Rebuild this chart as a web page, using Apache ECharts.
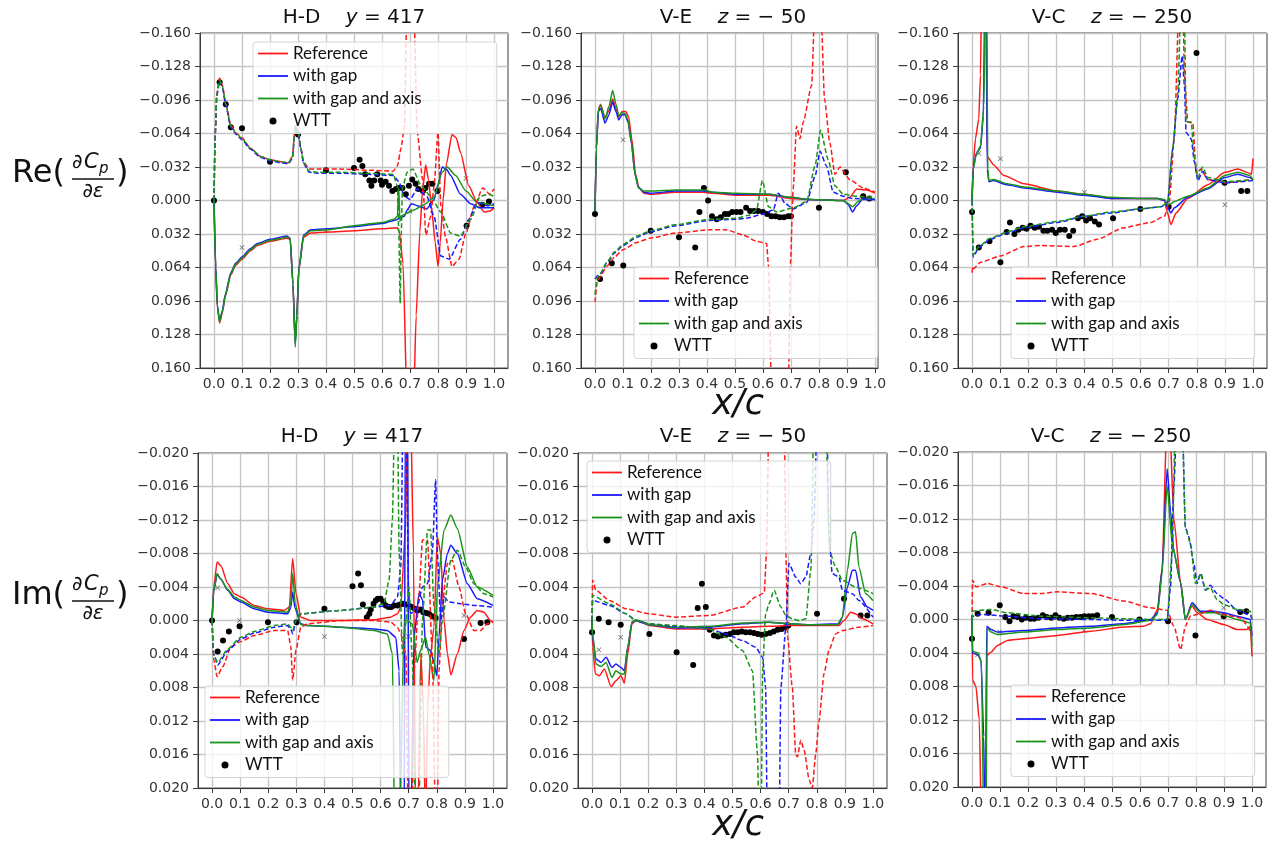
<!DOCTYPE html>
<html>
<head>
<meta charset="utf-8">
<title>dCp/de</title>
<script src="https://cdn.jsdelivr.net/npm/echarts@6/dist/echarts.min.js"></script>
<style>
  html, body { margin: 0; background: #fff; }
  #chart { width: 1273px; height: 841px; }
</style>
</head>
<body>
<div id="chart"></div>
<script>
// ---- data: [x/c, value] pairs (values past the frame are clipped) ----
const xTickValues = [0, 0.1, 0.2, 0.3, 0.4, 0.5, 0.6, 0.7, 0.8, 0.9, 1.0];
const seriesNames = ['Reference', 'with gap', 'with gap and axis'];

// Re, H-D y=417
const reHD_ref_s = [[0,0],[0.006,0.065],[0.012,0.102],[0.02,0.117],[0.03,0.107],[0.04,0.092],[0.06,0.071],[0.077,0.062],[0.1,0.056],[0.13,0.048],[0.155,0.043],[0.2,0.039],[0.26,0.036],[0.272,0.037],[0.282,0.08],[0.29,0.135],[0.296,0.11],[0.303,0.066],[0.32,0.035],[0.345,0.031],[0.405,0.03],[0.5,0.029],[0.6,0.027],[0.655,0.026],[0.662,0.03],[0.675,0.06],[0.69,0.2],[0.712,0.2],[0.722,0.11],[0.735,0.03],[0.745,-0.01],[0.756,-0.034],[0.766,-0.02],[0.778,0.01],[0.79,0.04],[0.8,0.063],[0.808,0.04],[0.818,0.0],[0.83,-0.035],[0.85,-0.063],[0.865,-0.06],[0.88,-0.046],[0.91,-0.014],[0.94,0.002],[0.965,0.011],[0.985,0.01],[1.0,0.007]];
const reHD_gap_s = [[0,0],[0.006,0.063],[0.012,0.1],[0.02,0.115],[0.03,0.105],[0.04,0.09],[0.06,0.069],[0.077,0.06],[0.1,0.054],[0.13,0.046],[0.155,0.041],[0.2,0.037],[0.26,0.034],[0.272,0.036],[0.282,0.08],[0.29,0.137],[0.296,0.11],[0.303,0.065],[0.32,0.033],[0.345,0.028],[0.405,0.027],[0.5,0.025],[0.6,0.022],[0.643,0.019],[0.68,0.015],[0.69,0.009],[0.705,0.003],[0.726,0.005],[0.76,0.008],[0.786,-0.001],[0.8,-0.015],[0.815,-0.032],[0.83,-0.03],[0.845,-0.024],[0.88,-0.006],[0.917,0.003],[0.95,0.007],[1.0,0.007]];
const reHD_axis_s = [[0,0],[0.006,0.064],[0.012,0.101],[0.02,0.116],[0.03,0.106],[0.04,0.091],[0.06,0.07],[0.077,0.061],[0.1,0.055],[0.13,0.047],[0.155,0.042],[0.2,0.038],[0.26,0.035],[0.272,0.036],[0.282,0.08],[0.29,0.14],[0.296,0.11],[0.303,0.065],[0.32,0.034],[0.345,0.029],[0.405,0.028],[0.5,0.024],[0.6,0.021],[0.643,0.018],[0.655,0.015],[0.66,-0.012],[0.664,0.02],[0.668,0.015],[0.69,0.012],[0.714,0.009],[0.75,0.004],[0.786,-0.003],[0.815,-0.027],[0.833,-0.032],[0.863,-0.024],[0.9,-0.009],[0.94,0.002],[1.0,0.005]];
const reHD_ref_d = [[0,0],[0.004,-0.062],[0.01,-0.102],[0.02,-0.117],[0.03,-0.11],[0.042,-0.093],[0.06,-0.072],[0.08,-0.064],[0.1,-0.06],[0.13,-0.05],[0.167,-0.042],[0.2,-0.039],[0.24,-0.037],[0.265,-0.036],[0.28,-0.042],[0.29,-0.072],[0.3,-0.066],[0.31,-0.05],[0.32,-0.037],[0.34,-0.03],[0.37,-0.03],[0.45,-0.03],[0.55,-0.029],[0.64,-0.028],[0.655,-0.033],[0.668,-0.05],[0.68,-0.07],[0.69,-0.2],[0.712,-0.2],[0.726,-0.065],[0.745,-0.02],[0.757,0.033],[0.774,0.015],[0.786,-0.014],[0.8,-0.065],[0.81,0.005],[0.827,0.035],[0.85,0.063],[0.875,0.056],[0.9,0.031],[0.93,0.005],[0.96,-0.012],[0.985,-0.006],[1.0,-0.011]];
const reHD_gap_d = [[0,0],[0.004,-0.06],[0.01,-0.1],[0.02,-0.114],[0.03,-0.108],[0.042,-0.091],[0.06,-0.07],[0.08,-0.063],[0.1,-0.058],[0.13,-0.049],[0.167,-0.041],[0.2,-0.038],[0.24,-0.036],[0.265,-0.035],[0.28,-0.04],[0.29,-0.07],[0.3,-0.065],[0.31,-0.05],[0.32,-0.035],[0.34,-0.027],[0.37,-0.026],[0.45,-0.026],[0.55,-0.025],[0.64,-0.024],[0.66,-0.018],[0.68,-0.004],[0.7,-0.001],[0.726,-0.011],[0.76,-0.004],[0.786,0.015],[0.81,0.053],[0.84,0.056],[0.88,0.037],[0.91,0.018],[0.94,0.002],[0.98,0.005],[1.0,0.003]];
const reHD_axis_d = [[0,0],[0.004,-0.061],[0.01,-0.101],[0.02,-0.115],[0.03,-0.109],[0.042,-0.092],[0.06,-0.071],[0.08,-0.064],[0.1,-0.059],[0.13,-0.05],[0.167,-0.042],[0.2,-0.039],[0.24,-0.037],[0.265,-0.036],[0.28,-0.041],[0.29,-0.071],[0.3,-0.066],[0.31,-0.05],[0.32,-0.036],[0.34,-0.028],[0.37,-0.027],[0.45,-0.027],[0.55,-0.026],[0.64,-0.025],[0.655,-0.014],[0.66,0.03],[0.665,0.098],[0.669,0.03],[0.673,-0.012],[0.69,-0.027],[0.71,-0.03],[0.74,-0.014],[0.774,-0.004],[0.81,0.011],[0.845,0.031],[0.88,0.034],[0.917,0.018],[0.95,-0.004],[0.98,-0.006],[1.0,-0.004]];
const reHD_wtt = [[0,0],[0.02,-0.113],[0.042,-0.092],[0.06,-0.07],[0.1,-0.069],[0.2,-0.037],[0.3,-0.063],[0.4,-0.029],[0.5,-0.031],[0.52,-0.039],[0.53,-0.033],[0.54,-0.025],[0.555,-0.019],[0.562,-0.014],[0.572,-0.019],[0.583,-0.025],[0.595,-0.019],[0.6,-0.015],[0.613,-0.018],[0.625,-0.014],[0.637,-0.009],[0.65,-0.011],[0.66,-0.012],[0.673,-0.012],[0.685,-0.006],[0.696,-0.014],[0.708,-0.02],[0.72,-0.016],[0.73,-0.011],[0.746,-0.009],[0.755,-0.012],[0.768,-0.016],[0.78,-0.016],[0.798,-0.009],[0.902,0.024],[0.958,0.004],[0.982,0.001]];
const reHD_x = [[0.1,0.045],[0.4,0.029],[0.7,0.01],[0.9,-0.021]];

// Re, V-E z=-50
const reVE_ref_s = [[0,0.01],[0.005,-0.05],[0.012,-0.087],[0.02,-0.092],[0.036,-0.079],[0.05,-0.086],[0.063,-0.097],[0.075,-0.088],[0.085,-0.08],[0.097,-0.085],[0.11,-0.085],[0.12,-0.08],[0.132,-0.058],[0.145,-0.025],[0.157,-0.012],[0.175,-0.007],[0.2,-0.006],[0.29,-0.008],[0.387,-0.008],[0.42,-0.007],[0.506,-0.005],[0.625,-0.005],[0.696,-0.002],[0.768,-0.001],[0.887,0],[0.91,-0.003],[0.935,-0.011],[0.97,-0.01],[1.0,-0.007]];
const reVE_gap_s = [[0,0.01],[0.005,-0.05],[0.012,-0.085],[0.02,-0.088],[0.036,-0.074],[0.05,-0.082],[0.063,-0.094],[0.075,-0.085],[0.085,-0.077],[0.097,-0.082],[0.107,-0.082],[0.118,-0.075],[0.13,-0.055],[0.143,-0.025],[0.155,-0.013],[0.175,-0.008],[0.2,-0.007],[0.29,-0.009],[0.387,-0.009],[0.42,-0.008],[0.506,-0.006],[0.625,-0.006],[0.696,-0.003],[0.768,-0.001],[0.887,0],[0.905,0.004],[0.92,0.011],[0.935,0.005],[0.955,-0.001],[1.0,-0.001]];
const reVE_axis_s = [[0,0.01],[0.005,-0.05],[0.012,-0.087],[0.02,-0.091],[0.036,-0.078],[0.05,-0.09],[0.063,-0.105],[0.075,-0.092],[0.085,-0.081],[0.097,-0.084],[0.107,-0.083],[0.118,-0.077],[0.13,-0.056],[0.143,-0.025],[0.155,-0.012],[0.175,-0.009],[0.2,-0.009],[0.29,-0.01],[0.387,-0.01],[0.42,-0.008],[0.506,-0.007],[0.625,-0.006],[0.696,-0.003],[0.768,-0.001],[0.887,0],[0.905,0.003],[0.92,0.006],[0.94,0.001],[0.96,-0.002],[1.0,-0.001]];
const reVE_ref_d = [[0,0.097],[0.008,0.078],[0.02,0.072],[0.042,0.063],[0.07,0.054],[0.1,0.047],[0.15,0.04],[0.196,0.036],[0.29,0.031],[0.41,0.028],[0.47,0.028],[0.53,0.033],[0.577,0.039],[0.613,0.041],[0.62,0.063],[0.632,0.2],[0.69,0.2],[0.698,0.06],[0.708,-0.011],[0.72,-0.071],[0.732,-0.059],[0.744,-0.075],[0.774,-0.11],[0.787,-0.2],[0.805,-0.2],[0.82,-0.097],[0.839,-0.055],[0.857,-0.025],[0.875,-0.032],[0.91,-0.02],[0.958,-0.012],[1.0,-0.008]];
const reVE_gap_d = [[0,0.075],[0.008,0.072],[0.02,0.07],[0.042,0.06],[0.07,0.05],[0.1,0.043],[0.15,0.035],[0.196,0.03],[0.29,0.024],[0.41,0.019],[0.506,0.018],[0.54,0.017],[0.6,0.013],[0.637,0.009],[0.655,-0.007],[0.68,0.003],[0.708,0.008],[0.756,0.002],[0.786,-0.023],[0.804,-0.047],[0.827,-0.033],[0.851,-0.008],[0.887,-0.004],[0.92,-0.002],[1.0,-0.001]];
const reVE_axis_d = [[0,0.09],[0.008,0.074],[0.02,0.069],[0.042,0.059],[0.07,0.049],[0.1,0.042],[0.15,0.034],[0.196,0.029],[0.29,0.023],[0.41,0.018],[0.506,0.017],[0.55,0.014],[0.577,0.009],[0.598,-0.019],[0.62,0.006],[0.65,0.011],[0.708,0.007],[0.756,0.001],[0.786,-0.033],[0.806,-0.067],[0.833,-0.039],[0.857,-0.014],[0.887,-0.006],[0.935,-0.004],[1.0,-0.003]];
const reVE_wtt = [[0,0.013],[0.018,0.075],[0.06,0.06],[0.101,0.062],[0.199,0.029],[0.3,0.035],[0.358,0.045],[0.373,0.011],[0.389,-0.012],[0.404,0],[0.418,0.015],[0.435,0.018],[0.449,0.016],[0.464,0.013],[0.476,0.013],[0.49,0.011],[0.506,0.011],[0.52,0.011],[0.54,0.007],[0.554,0.01],[0.568,0.01],[0.583,0.01],[0.6,0.011],[0.615,0.013],[0.63,0.015],[0.645,0.015],[0.66,0.016],[0.675,0.016],[0.69,0.015],[0.7,0.015],[0.8,0.007],[0.896,-0.027],[0.958,-0.004],[0.98,-0.002]];
const reVE_x = [[0.1,-0.058]];

// Re, V-C z=-250
const reVC_ref_s = [[0,0],[0.004,-0.033],[0.012,-0.059],[0.024,-0.078],[0.03,-0.12],[0.034,-0.2],[0.05,-0.2],[0.054,-0.042],[0.077,-0.034],[0.113,-0.024],[0.185,-0.016],[0.304,-0.009],[0.4,-0.006],[0.494,-0.002],[0.6,-0.002],[0.66,-0.002],[0.685,0],[0.696,0.012],[0.708,0.023],[0.726,0.012],[0.768,-0.002],[0.839,-0.015],[0.9,-0.027],[0.946,-0.03],[0.988,-0.026],[0.995,-0.025],[1.0,-0.04]];
const reVC_gap_s = [[0,0],[0.004,-0.03],[0.015,-0.045],[0.03,-0.05],[0.04,-0.08],[0.046,-0.2],[0.05,-0.2],[0.054,-0.03],[0.06,-0.018],[0.077,-0.019],[0.125,-0.015],[0.185,-0.012],[0.304,-0.008],[0.4,-0.005],[0.494,-0.002],[0.613,-0.002],[0.66,-0.002],[0.685,0],[0.696,0.006],[0.708,0.012],[0.72,0.007],[0.768,-0.003],[0.839,-0.011],[0.9,-0.022],[0.946,-0.025],[0.988,-0.022],[1.0,-0.02]];
const reVC_axis_s = [[0,0],[0.004,-0.03],[0.015,-0.044],[0.03,-0.052],[0.042,-0.09],[0.048,-0.2],[0.052,-0.2],[0.056,-0.03],[0.06,-0.019],[0.077,-0.02],[0.125,-0.016],[0.185,-0.013],[0.304,-0.009],[0.4,-0.006],[0.494,-0.003],[0.613,-0.002],[0.66,-0.002],[0.685,-0.001],[0.696,0.004],[0.708,0.003],[0.72,0.001],[0.768,-0.004],[0.839,-0.012],[0.9,-0.024],[0.946,-0.027],[0.988,-0.024],[1.0,-0.02]];
const reVC_ref_d = [[0,0.069],[0.003,0.063],[0.006,0.065],[0.03,0.059],[0.1,0.053],[0.185,0.044],[0.244,0.043],[0.363,0.044],[0.446,0.037],[0.54,0.026],[0.637,0.021],[0.685,0.015],[0.702,0.002],[0.72,-0.06],[0.738,-0.2],[0.75,-0.2],[0.756,-0.12],[0.768,-0.075],[0.786,-0.074],[0.798,-0.026],[0.815,-0.03],[0.839,-0.02],[0.9,-0.017],[1.0,-0.02]];
const reVC_gap_d = [[0,0],[0.004,0.054],[0.024,0.045],[0.065,0.037],[0.125,0.031],[0.185,0.026],[0.304,0.021],[0.4,0.015],[0.494,0.012],[0.6,0.008],[0.673,0.006],[0.696,0.002],[0.714,-0.049],[0.732,-0.097],[0.748,-0.138],[0.756,-0.11],[0.762,-0.065],[0.78,-0.059],[0.792,-0.036],[0.804,-0.019],[0.821,-0.028],[0.839,-0.02],[0.9,-0.017],[1.0,-0.019]];
const reVC_axis_d = [[0,0],[0.004,0.052],[0.024,0.044],[0.065,0.036],[0.125,0.03],[0.185,0.025],[0.304,0.02],[0.4,0.015],[0.494,0.011],[0.6,0.008],[0.673,0.006],[0.696,0.002],[0.714,-0.05],[0.732,-0.1],[0.745,-0.2],[0.755,-0.2],[0.762,-0.075],[0.78,-0.075],[0.792,-0.04],[0.804,-0.022],[0.821,-0.032],[0.839,-0.022],[0.9,-0.018],[1.0,-0.02]];
const reVC_wtt = [[0,0.011],[0.024,0.045],[0.062,0.039],[0.101,0.059],[0.123,0.03],[0.135,0.021],[0.151,0.032],[0.165,0.028],[0.18,0.026],[0.194,0.027],[0.208,0.024],[0.223,0.026],[0.238,0.025],[0.254,0.029],[0.268,0.029],[0.285,0.028],[0.298,0.031],[0.313,0.028],[0.33,0.028],[0.346,0.034],[0.36,0.029],[0.377,0.017],[0.392,0.015],[0.406,0.019],[0.42,0.017],[0.437,0.02],[0.452,0.023],[0.502,0.017],[0.599,0.008],[0.7,0.006],[0.799,-0.141],[0.899,-0.017],[0.958,-0.009],[0.98,-0.009]];
const reVC_x = [[0.024,-0.045],[0.101,-0.04],[0.4,-0.008],[0.9,0.004]];

// Im, H-D y=417
const imHD_ref_s = [[0,0],[0.006,-0.004],[0.018,-0.007],[0.032,-0.0065],[0.056,-0.0044],[0.079,-0.0032],[0.103,-0.0028],[0.15,-0.0018],[0.198,-0.0014],[0.257,-0.0012],[0.275,-0.0016],[0.287,-0.0074],[0.299,-0.0032],[0.316,-0.0004],[0.352,0],[0.459,0],[0.577,-0.0001],[0.636,-0.0004],[0.66,-0.0008],[0.672,-0.0016],[0.69,-0.012],[0.695,-0.025],[0.707,-0.025],[0.717,-0.008],[0.725,0.025],[0.732,0.025],[0.743,0.004],[0.752,0.01],[0.76,0.025],[0.768,0.01],[0.778,0.004],[0.79,0.0008],[0.802,-0.01],[0.814,-0.008],[0.826,0],[0.838,0.004],[0.85,0.0065],[0.873,0.004],[0.897,0.0012],[0.92,-0.0004],[0.944,-0.0012],[0.968,-0.001],[0.991,0],[1.0,0.0002]];
const imHD_gap_s = [[0,0],[0.006,-0.0035],[0.018,-0.0055],[0.03,-0.005],[0.056,-0.0036],[0.08,-0.0026],[0.103,-0.0022],[0.15,-0.0014],[0.198,-0.001],[0.269,-0.0008],[0.28,-0.0015],[0.287,-0.0034],[0.295,-0.0015],[0.316,0.0004],[0.34,0.0006],[0.459,0.0008],[0.577,0.001],[0.624,0.0012],[0.654,0.002],[0.666,0.006],[0.672,0.025],[0.684,0.025],[0.688,-0.025],[0.696,-0.025],[0.701,0.025],[0.708,0.025],[0.719,0.002],[0.737,-0.0032],[0.749,-0.0025],[0.761,0.0032],[0.778,0.0036],[0.79,0.005],[0.8,0.0066],[0.808,0.002],[0.82,-0.0048],[0.838,-0.008],[0.85,-0.009],[0.873,-0.008],[0.909,-0.0044],[0.944,-0.0026],[1.0,-0.0018]];
const imHD_axis_s = [[0,0],[0.006,-0.0036],[0.018,-0.0056],[0.03,-0.005],[0.056,-0.0037],[0.08,-0.0028],[0.103,-0.0024],[0.15,-0.0016],[0.198,-0.0012],[0.269,-0.001],[0.28,-0.002],[0.287,-0.0056],[0.296,-0.002],[0.316,0.0005],[0.34,0.0006],[0.459,0.0008],[0.577,0.0012],[0.624,0.0016],[0.642,0.004],[0.65,0.025],[0.668,0.025],[0.684,0],[0.695,0],[0.713,0.0004],[0.73,0.005],[0.743,0.0035],[0.76,0.002],[0.772,0.004],[0.79,0.0072],[0.802,-0.004],[0.826,-0.0108],[0.85,-0.0126],[0.873,-0.011],[0.909,-0.0064],[0.944,-0.004],[1.0,-0.003]];
const imHD_ref_d = [[0,0],[0.006,0.0047],[0.018,0.0067],[0.038,0.0055],[0.068,0.0031],[0.103,0.0025],[0.15,0.0018],[0.222,0.0012],[0.269,0.0012],[0.28,0.003],[0.287,0.0071],[0.299,0.0035],[0.316,0.0008],[0.34,0.0004],[0.459,0],[0.577,0],[0.636,0.0002],[0.66,0.0008],[0.672,0.0016],[0.69,0.004],[0.699,0.025],[0.712,0.025],[0.719,0.006],[0.737,-0.0032],[0.749,-0.0096],[0.767,-0.0096],[0.784,0.004],[0.796,0.025],[0.802,0.025],[0.808,0.006],[0.82,-0.002],[0.838,-0.0068],[0.855,-0.0072],[0.879,-0.004],[0.903,-0.0008],[0.932,0.0012],[0.956,0.0012],[0.98,0.0004],[1.0,0.0002]];
const imHD_gap_d = [[0,0],[0.006,0.004],[0.02,0.0053],[0.056,0.0036],[0.103,0.0022],[0.15,0.0015],[0.222,0.0008],[0.269,0.0006],[0.28,0.001],[0.287,0.0016],[0.299,0],[0.316,-0.0008],[0.459,-0.0012],[0.577,-0.0016],[0.636,-0.0018],[0.66,-0.0028],[0.672,-0.0064],[0.68,-0.025],[0.69,-0.025],[0.7,-0.003],[0.707,-0.0008],[0.73,-0.0016],[0.749,-0.004],[0.767,-0.0044],[0.784,-0.008],[0.796,-0.0168],[0.802,-0.008],[0.814,0],[0.826,-0.0028],[0.844,-0.0022],[0.885,-0.002],[0.932,-0.0018],[1.0,-0.0016]];
const imHD_axis_d = [[0,0],[0.006,0.0042],[0.02,0.005],[0.056,0.0034],[0.103,0.002],[0.15,0.0013],[0.222,0.0006],[0.269,0.0004],[0.28,0.0008],[0.287,0.0012],[0.299,0],[0.316,-0.0008],[0.459,-0.0012],[0.577,-0.0016],[0.612,-0.002],[0.63,-0.0048],[0.642,-0.012],[0.65,-0.025],[0.66,-0.025],[0.666,-0.008],[0.678,0.004],[0.69,0.0004],[0.701,-0.004],[0.713,0.0048],[0.725,0.025],[0.735,0.025],[0.749,0],[0.767,-0.0108],[0.778,-0.0108],[0.79,-0.0016],[0.808,0.004],[0.82,0],[0.85,-0.0072],[0.873,-0.0084],[0.903,-0.0064],[0.932,-0.0044],[0.968,-0.0032],[1.0,-0.0028]];
const imHD_wtt = [[0,0],[0.02,0.0037],[0.039,0.0024],[0.06,0.0013],[0.098,0.0007],[0.199,0.0002],[0.301,0.0002],[0.4,-0.0014],[0.5,-0.0041],[0.52,-0.0056],[0.53,-0.0042],[0.537,-0.0019],[0.551,-0.0004],[0.56,-0.0008],[0.565,-0.0013],[0.575,-0.002],[0.583,-0.0024],[0.59,-0.0026],[0.6,-0.0026],[0.61,-0.0022],[0.618,-0.0018],[0.628,-0.0016],[0.638,-0.0016],[0.648,-0.0018],[0.66,-0.0018],[0.669,-0.0019],[0.679,-0.002],[0.69,-0.0019],[0.701,-0.0018],[0.711,-0.0016],[0.722,-0.0014],[0.731,-0.0012],[0.743,-0.0013],[0.752,-0.001],[0.763,-0.0009],[0.772,-0.0008],[0.784,-0.0005],[0.796,-0.0003],[0.897,0.0022],[0.956,0.0003],[0.98,0.0002]];
const imHD_x = [[0.02,-0.0039],[0.098,0],[0.4,0.0019],[0.699,0.0019],[0.897,-0.0006]];

// Im, V-E z=-50
const imVE_ref_s = [[0,0],[0.002,0.0032],[0.012,0.0064],[0.026,0.0066],[0.044,0.0058],[0.068,0.0079],[0.085,0.0072],[0.103,0.0066],[0.115,0.0075],[0.127,0.004],[0.142,0.0004],[0.156,0],[0.174,0.0002],[0.204,0.0006],[0.299,0.001],[0.417,0.001],[0.536,0.0008],[0.63,0.0007],[0.701,0.0006],[0.773,0.0006],[0.879,0.0006],[0.897,0],[0.921,-0.001],[0.938,-0.0008],[0.962,-0.0002],[1.0,0.0004]];
const imVE_gap_s = [[0,0],[0.002,0.002],[0.014,0.0046],[0.032,0.005],[0.05,0.0044],[0.071,0.0056],[0.085,0.0052],[0.103,0.0056],[0.115,0.006],[0.127,0.0032],[0.142,0.0002],[0.156,0],[0.174,0.0002],[0.204,0.0005],[0.299,0.0009],[0.417,0.0008],[0.536,0.0004],[0.63,0.0002],[0.701,0.0004],[0.773,0.0005],[0.879,0.0004],[0.891,-0.0004],[0.909,-0.004],[0.927,-0.006],[0.938,-0.006],[0.956,-0.0028],[0.98,-0.0016],[1.0,-0.0012]];
const imVE_axis_s = [[0,0],[0.002,0.0016],[0.014,0.0052],[0.032,0.0055],[0.05,0.005],[0.071,0.0068],[0.085,0.006],[0.103,0.0064],[0.115,0.0064],[0.127,0.0032],[0.142,0.0002],[0.156,-0.0001],[0.174,0.0001],[0.204,0.0005],[0.299,0.0008],[0.417,0.0007],[0.536,0.0003],[0.63,0.0002],[0.701,0.0004],[0.773,0.0005],[0.873,0.0005],[0.891,-0.0004],[0.909,-0.006],[0.927,-0.0104],[0.938,-0.0106],[0.95,-0.0064],[0.974,-0.0032],[1.0,-0.0024]];
const imVE_ref_d = [[0,0],[0.002,-0.0048],[0.014,-0.0036],[0.062,-0.0024],[0.121,-0.0014],[0.204,-0.0008],[0.299,-0.0004],[0.417,-0.0006],[0.536,-0.0016],[0.583,-0.0028],[0.613,-0.0033],[0.621,-0.008],[0.63,-0.025],[0.684,-0.025],[0.69,-0.008],[0.696,0.002],[0.713,0.008],[0.725,0.016],[0.731,0.0163],[0.743,0.0143],[0.755,0.0155],[0.773,0.019],[0.784,0.02],[0.796,0.016],[0.808,0.012],[0.826,0.0063],[0.844,0.0035],[0.867,0.0016],[0.891,0.0012],[0.95,0.0008],[1.0,0.0006]];
const imVE_gap_d = [[0,0],[0.002,-0.0024],[0.062,-0.0018],[0.121,-0.0008],[0.156,0],[0.204,0.0004],[0.299,0.0007],[0.417,0.001],[0.476,0.0016],[0.536,0.0024],[0.583,0.0032],[0.607,0.0044],[0.618,0.008],[0.624,0.025],[0.666,0.025],[0.672,0.008],[0.69,0.0008],[0.701,-0.0068],[0.725,-0.0052],[0.743,-0.0044],[0.761,-0.0052],[0.779,-0.008],[0.79,-0.012],[0.802,-0.025],[0.835,-0.025],[0.844,-0.01],[0.855,-0.0056],[0.879,-0.0052],[0.891,-0.0036],[0.927,-0.0032],[0.95,-0.0024],[1.0,-0.0004]];
const imVE_axis_d = [[0,0],[0.002,-0.003],[0.062,-0.002],[0.121,-0.0008],[0.156,0],[0.204,0.0004],[0.299,0.0006],[0.417,0.001],[0.476,0.002],[0.536,0.0036],[0.571,0.006],[0.589,0.016],[0.595,0.025],[0.602,0.025],[0.607,0.006],[0.618,-0.0008],[0.63,-0.002],[0.648,-0.0036],[0.672,-0.0016],[0.69,-0.0006],[0.713,-0.0002],[0.737,0],[0.761,-0.0002],[0.779,-0.006],[0.79,-0.025],[0.832,-0.025],[0.844,-0.0084],[0.867,-0.0064],[0.891,-0.0048],[0.938,-0.004],[1.0,-0.0032]];
const imVE_wtt = [[0,0.0014],[0.024,-0.0002],[0.059,0.0002],[0.102,0.0005],[0.204,0.0016],[0.301,0.0038],[0.36,0.0053],[0.376,-0.0015],[0.391,-0.0044],[0.405,-0.0016],[0.419,0.0011],[0.434,0.0018],[0.448,0.0019],[0.462,0.0018],[0.476,0.0017],[0.491,0.0016],[0.505,0.0014],[0.519,0.0014],[0.533,0.0013],[0.547,0.0014],[0.562,0.0014],[0.576,0.0015],[0.59,0.0016],[0.604,0.0017],[0.618,0.0016],[0.633,0.0015],[0.647,0.0013],[0.661,0.0011],[0.675,0.001],[0.69,0.0008],[0.699,0.0006],[0.801,-0.0008],[0.897,-0.0026],[0.956,-0.0006],[0.98,-0.0006]];
const imVE_x = [[0.024,0.0035],[0.102,0.002]];

// Im, V-C z=-250
const imVC_ref_s = [[0,0],[0.002,0.0072],[0.014,0.008],[0.026,0.012],[0.034,0.025],[0.048,0.025],[0.052,0.0043],[0.068,0.0039],[0.091,0.0031],[0.127,0.0025],[0.186,0.0023],[0.305,0.0019],[0.424,0.0014],[0.543,0.0009],[0.614,0.0008],[0.638,0.0005],[0.662,-0.0012],[0.679,-0.006],[0.697,-0.025],[0.704,-0.025],[0.721,-0.012],[0.745,-0.0044],[0.762,0],[0.786,-0.0016],[0.804,-0.0008],[0.84,0],[0.899,0.0006],[0.947,0.0012],[0.982,0.0012],[0.994,0.0008],[1.0,0.0044]];
const imVC_gap_s = [[0,0],[0.002,0.004],[0.02,0.0042],[0.032,0.0048],[0.042,0.014],[0.046,0.025],[0.05,0.025],[0.052,0.0008],[0.068,0.0012],[0.091,0.0015],[0.186,0.0013],[0.305,0.001],[0.424,0.0008],[0.543,0.0005],[0.638,0],[0.662,-0.0008],[0.679,-0.006],[0.697,-0.018],[0.709,-0.013],[0.721,-0.008],[0.745,-0.0044],[0.762,0],[0.786,-0.002],[0.816,-0.001],[0.863,-0.001],[0.899,-0.0008],[0.947,-0.0004],[0.994,0],[1.0,0.002]];
const imVC_axis_s = [[0,0],[0.002,0.0038],[0.022,0.004],[0.034,0.0052],[0.042,0.025],[0.05,0.025],[0.054,0.001],[0.068,0.0015],[0.091,0.0018],[0.186,0.0015],[0.305,0.0012],[0.424,0.001],[0.543,0.0006],[0.638,0.0001],[0.662,-0.0006],[0.679,-0.0055],[0.697,-0.016],[0.715,-0.009],[0.745,-0.0045],[0.762,0],[0.786,-0.0018],[0.816,-0.0008],[0.863,-0.0008],[0.899,-0.0005],[0.947,0],[0.994,0.0004],[1.0,0.0032]];
const imVC_ref_d = [[0,0],[0.002,-0.0047],[0.014,-0.0039],[0.056,-0.0043],[0.103,-0.0039],[0.186,-0.0031],[0.246,-0.0031],[0.305,-0.0033],[0.424,-0.0031],[0.543,-0.0022],[0.638,-0.0014],[0.697,-0.0011],[0.721,0.0008],[0.745,0.0036],[0.762,0.0008],[0.78,-0.0004],[0.804,-0.0006],[0.851,-0.0011],[0.899,-0.0006],[0.958,-0.0002],[1.0,0.0017]];
const imVC_gap_d = [[0,0],[0.002,-0.0004],[0.032,-0.0006],[0.127,-0.0004],[0.246,-0.0001],[0.424,0],[0.543,0.0001],[0.638,0.0001],[0.697,0.0001],[0.709,-0.0039],[0.721,-0.016],[0.733,-0.025],[0.75,-0.025],[0.762,-0.011],[0.774,-0.0099],[0.792,-0.0067],[0.804,-0.0043],[0.816,-0.0055],[0.834,-0.0035],[0.851,-0.0041],[0.875,-0.0031],[0.899,-0.0025],[0.947,-0.0011],[0.994,-0.0005],[1.0,0]];
const imVC_axis_d = [[0,0],[0.002,-0.001],[0.068,-0.0012],[0.127,-0.0008],[0.246,-0.0004],[0.424,-0.0002],[0.543,-0.0001],[0.638,0],[0.697,0],[0.715,-0.0079],[0.727,-0.025],[0.75,-0.025],[0.762,-0.011],[0.78,-0.0091],[0.798,-0.0043],[0.818,-0.0055],[0.834,-0.0035],[0.851,-0.0038],[0.875,-0.0024],[0.899,-0.0018],[0.947,-0.0012],[0.994,-0.001],[1.0,0]];
const imVC_wtt = [[0,0.0023],[0.02,-0.0007],[0.059,-0.0008],[0.099,-0.0017],[0.119,-0.0003],[0.134,0.0002],[0.148,-0.0004],[0.163,-0.0003],[0.178,0],[0.192,-0.0002],[0.208,-0.0001],[0.222,-0.0001],[0.238,-0.0002],[0.253,-0.0005],[0.267,-0.0003],[0.283,-0.0002],[0.298,-0.0005],[0.312,-0.0002],[0.328,-0.0001],[0.342,-0.0002],[0.357,-0.0002],[0.372,-0.0003],[0.387,-0.0003],[0.401,-0.0004],[0.417,-0.0004],[0.431,-0.0004],[0.447,-0.0005],[0.5,-0.0003],[0.598,0],[0.7,0.0002],[0.798,0.0019],[0.899,-0.0004],[0.958,-0.0009],[0.98,-0.001]];
const imVC_x = [[0.02,0.0042],[0.099,0.0015],[0.4,0.0013],[0.899,-0.0014]];

// ---- layout of the six panels ----
var panels = [
  { grid: {left: 200, top: 33, width: 308, height: 335}, xMax: 1.05, y: [-0.16, 0.16, 0.032],
    title: ['H-D', 'y', '= 417'], tx: 354, ty: 18, lg: [253, 42],
    solid: [reHD_ref_s, reHD_gap_s, reHD_axis_s], dashed: [reHD_ref_d, reHD_gap_d, reHD_axis_d], wtt: reHD_wtt, cross: reHD_x },
  { grid: {left: 581, top: 33, width: 297, height: 335}, xMax: 1.011, y: [-0.16, 0.16, 0.032],
    title: ['V-E', 'z', '= \u2212 50'], tx: 733, ty: 18, lg: [634, 267],
    solid: [reVE_ref_s, reVE_gap_s, reVE_axis_s], dashed: [reVE_ref_d, reVE_gap_d, reVE_axis_d], wtt: reVE_wtt, cross: reVE_x },
  { grid: {left: 958, top: 33, width: 309, height: 335}, xMax: 1.05, y: [-0.16, 0.16, 0.032],
    title: ['V-C', 'z', '= \u2212 250'], tx: 1112, ty: 18, lg: [1011, 267],
    solid: [reVC_ref_s, reVC_gap_s, reVC_axis_s], dashed: [reVC_ref_d, reVC_gap_d, reVC_axis_d], wtt: reVC_wtt, cross: reVC_x },
  { grid: {left: 198, top: 453, width: 309, height: 335}, xMax: 1.05, y: [-0.02, 0.02, 0.004],
    title: ['H-D', 'y', '= 417'], tx: 352, ty: 437, lg: [205, 686],
    solid: [imHD_ref_s, imHD_gap_s, imHD_axis_s], dashed: [imHD_ref_d, imHD_gap_d, imHD_axis_d], wtt: imHD_wtt, cross: imHD_x },
  { grid: {left: 578, top: 453, width: 309, height: 335}, xMax: 1.05, y: [-0.02, 0.02, 0.004],
    title: ['V-E', 'z', '= \u2212 50'], tx: 733, ty: 437, lg: [587, 461],
    solid: [imVE_ref_s, imVE_gap_s, imVE_axis_s], dashed: [imVE_ref_d, imVE_gap_d, imVE_axis_d], wtt: imVE_wtt, cross: imVE_x },
  { grid: {left: 958, top: 452, width: 308, height: 335}, xMax: 1.05, y: [-0.02, 0.02, 0.004],
    title: ['V-C', 'z', '= \u2212 250'], tx: 1111, ty: 437, lg: [1011, 685],
    solid: [imVC_ref_s, imVC_gap_s, imVC_axis_s], dashed: [imVC_ref_d, imVC_gap_d, imVC_axis_d], wtt: imVC_wtt, cross: imVC_x }
];

var colors = ['#ff1a1a', '#1a1aff', '#1a941a'];
var frameColor = '#3a3a3a';
var gridColor = '#c4c4c4';
var LINE_ICON = 'path://M0,0L30,0L30,1.8L0,1.8Z';
var CROSS = 'path://M0,1L1,0L5,4L9,0L10,1L6,5L10,9L9,10L5,6L1,10L0,9L4,5Z';

var chart = echarts.init(document.getElementById('chart'));

var series = [];
panels.forEach(function (p, i) {
  p.solid.forEach(function (d, k) {
    series.push({ name: seriesNames[k], type: 'line', xAxisIndex: i, yAxisIndex: i, data: d,
      symbol: 'none', smooth: 0.2, smoothMonotone: 'x', color: colors[k],
      lineStyle: { width: 1.5, color: colors[k] } });
  });
  p.dashed.forEach(function (d, k) {
    series.push({ name: seriesNames[k], type: 'line', xAxisIndex: i, yAxisIndex: i, data: d,
      symbol: 'none', smooth: 0.2, smoothMonotone: 'x', color: colors[k],
      lineStyle: { width: 1.5, color: colors[k], type: [5, 2.5] } });
  });
  series.push({ name: 'WTT', type: 'scatter', xAxisIndex: i, yAxisIndex: i, data: p.wtt,
    symbol: 'circle', symbolSize: 6, color: '#000', itemStyle: { color: '#000', opacity: 1 } });
  series.push({ name: 'WTT x', type: 'scatter', xAxisIndex: i, yAxisIndex: i, data: p.cross,
    symbol: CROSS, symbolSize: 5, itemStyle: { color: '#666', opacity: 1 } });
});

function yLabel(v) {
  return (v < -1e-9 ? '\u2212' : '') + Math.abs(v).toFixed(3);
}

var graphic = [];
panels.forEach(function (p) {
  graphic.push({ type: 'text', x: p.tx, y: p.ty, silent: true,
    style: { text: '{r|' + p.title[0] + '}    {i|' + p.title[1] + '} {r|' + p.title[2] + '}',
      align: 'center', verticalAlign: 'middle', fontSize: 20, fontFamily: 'DejaVu Sans',
      rich: { r: { fontSize: 20, fontFamily: 'DejaVu Sans', fill: '#111' },
              i: { fontSize: 20, fontFamily: 'DejaVu Sans', fontStyle: 'italic', fill: '#111' } } } });
});

// y-axis quantity labels: Re(dCp/de) and Im(dCp/de)
function fracLabel(prefix, cy) {
  var txt = { fontFamily: 'DejaVu Sans', fill: '#111' };
  return { type: 'group', silent: true, children: [
    { type: 'text', x: 12, y: cy, style: Object.assign({ text: prefix + '(', fontSize: 32, verticalAlign: 'middle' }, txt) },
    { type: 'text', x: 72, y: cy - 11, style: Object.assign({ text: '\u2202', fontSize: 20, verticalAlign: 'middle' }, txt) },
    { type: 'text', x: 84, y: cy - 11, style: Object.assign({ text: 'C', fontSize: 21, fontStyle: 'italic', verticalAlign: 'middle' }, txt) },
    { type: 'text', x: 99, y: cy - 5, style: Object.assign({ text: 'p', fontSize: 15, fontStyle: 'italic', verticalAlign: 'middle' }, txt) },
    { type: 'line', shape: { x1: 72, y1: cy + 5, x2: 114, y2: cy + 5 }, style: { stroke: '#111', lineWidth: 1.3 } },
    { type: 'text', x: 93, y: cy + 18, style: Object.assign({ text: '\u2202\u03b5', fontSize: 20, fontStyle: 'italic', align: 'center', verticalAlign: 'middle' }, txt) },
    { type: 'text', x: 116, y: cy, style: Object.assign({ text: ')', fontSize: 32, verticalAlign: 'middle' }, txt) }
  ] };
}
graphic.push(fracLabel('Re', 174));
graphic.push(fracLabel('Im', 596));

[405, 826].forEach(function (yy) {
  graphic.push({ type: 'text', x: 738, y: yy, silent: true,
    style: { text: 'x/c', fontSize: 35, fontFamily: 'DejaVu Sans', fontStyle: 'italic', fill: '#111',
      align: 'center', verticalAlign: 'middle' } });
});

var option = {
  animation: false,
  backgroundColor: '#fff',
  grid: panels.map(function (p) {
    return Object.assign({ show: true, borderColor: frameColor, borderWidth: 1 }, p.grid);
  }),
  xAxis: panels.map(function (p, i) {
    return { type: 'value', gridIndex: i, min: -0.05, max: p.xMax,
      axisLine: { show: true, onZero: false, lineStyle: { color: frameColor } },
      axisTick: { show: true, length: 5, customValues: xTickValues, lineStyle: { color: frameColor } },
      axisLabel: { customValues: xTickValues, margin: 9, fontFamily: 'DejaVu Sans', fontSize: 14, color: '#333',
        formatter: function (v) { return v.toFixed(1); } },
      splitLine: { show: true, lineStyle: { color: gridColor, width: 1.3 } } };
  }),
  yAxis: panels.map(function (p, i) {
    return { type: 'value', gridIndex: i, inverse: true, min: p.y[0], max: p.y[1], interval: p.y[2],
      axisLine: { show: true, onZero: false, lineStyle: { color: frameColor } },
      axisTick: { show: true, length: 5, lineStyle: { color: frameColor } },
      axisLabel: { margin: 9, fontFamily: 'DejaVu Sans', fontSize: 14, color: '#333', formatter: yLabel },
      splitLine: { show: true, lineStyle: { color: gridColor, width: 1.3 } } };
  }),
  legend: panels.map(function (p) {
    return { orient: 'vertical', left: p.lg[0], top: p.lg[1], padding: [3, 75, 4, 5],
      itemWidth: 30, itemHeight: 7, itemGap: 5.5, selectedMode: false,
      backgroundColor: 'rgba(255,255,255,0.8)', borderColor: '#d4d4d4', borderWidth: 1, borderRadius: 3,
      textStyle: { fontFamily: 'Lato', fontSize: 17, lineHeight: 17, color: '#111' },
      data: [
        { name: seriesNames[0], icon: LINE_ICON },
        { name: seriesNames[1], icon: LINE_ICON },
        { name: seriesNames[2], icon: LINE_ICON },
        { name: 'WTT', icon: 'circle' }
      ] };
  }),
  graphic: graphic,
  series: series
};

chart.setOption(option);
</script>
</body>
</html>
